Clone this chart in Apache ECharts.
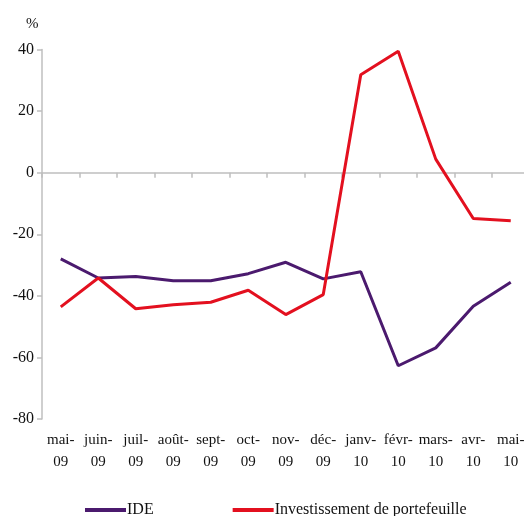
<!DOCTYPE html>
<html>
<head>
<meta charset="utf-8">
<script src="https://cdn.jsdelivr.net/npm/echarts@6/dist/echarts.min.js"></script>
<style>
  html, body { margin: 0; padding: 0; background: #ffffff; }
  #chart { width: 524px; height: 516px; }
</style>
</head>
<body>
<div id="chart"></div>
<script>
// Monthly categories, May 2009 to May 2010
const months = ['mai-\n09', 'juin-\n09', 'juil-\n09', 'août-\n09', 'sept-\n09', 'oct-\n09', 'nov-\n09',
                'déc-\n09', 'janv-\n10', 'févr-\n10', 'mars-\n10', 'avr-\n10', 'mai-\n10'];
// Year-on-year change, %
const ide = [-28.0, -34.2, -33.7, -35.1, -35.1, -32.8, -29.1, -34.5, -32.2, -62.7, -56.9, -43.4, -35.6];
const portefeuille = [-43.6, -34.2, -44.2, -42.9, -42.1, -38.2, -46.1, -39.6, 31.8, 39.4, 4.4, -14.9, -15.6];
const yTicks = { min: -80, max: 40, step: 20 };

const FONT = '"Liberation Serif", "DejaVu Serif", serif';
const AXIS_GREY = '#bfbfbf';
const TEXT = '#111111';

const chart = echarts.init(document.getElementById('chart'), null, { renderer: 'canvas' });

chart.setOption({
  animation: false,
  backgroundColor: '#ffffff',
  textStyle: { fontFamily: FONT, color: TEXT },
  title: {
    text: '%',
    left: 21,
    top: 12,
    textStyle: { fontFamily: FONT, fontSize: 15, fontWeight: 'normal', color: TEXT }
  },
  // the plot runs slightly past the right edge of the canvas
  grid: { left: 42, width: 487.5, top: 49.5, height: 369.5, outerBoundsMode: 'none', containLabel: false },
  legend: {
    top: 497,
    left: 80,
    itemGap: 79,
    itemWidth: 41,
    itemHeight: 4,
    icon: 'rect',
    textStyle: { fontFamily: FONT, fontSize: 16, color: TEXT, padding: [0, 0, 0, -4] },
    data: ['IDE', 'Investissement de portefeuille']
  },
  xAxis: [
    {
      type: 'category',
      data: months,
      boundaryGap: true,
      axisLine: { onZero: true, lineStyle: { color: AXIS_GREY, width: 1.5 } },
      axisTick: { show: true, length: 5, lineStyle: { color: AXIS_GREY, width: 1.5 } },
      axisLabel: { show: false },
      splitLine: { show: false }
    },
    {
      type: 'category',
      data: months,
      position: 'bottom',
      boundaryGap: true,
      axisLine: { show: false, onZero: false },
      axisTick: { show: false },
      axisLabel: {
        show: true,
        interval: 0,
        margin: 10,
        fontFamily: FONT,
        fontSize: 15,
        lineHeight: 22,
        color: TEXT
      },
      splitLine: { show: false }
    }
  ],
  yAxis: {
    type: 'value',
    min: yTicks.min,
    max: yTicks.max,
    interval: yTicks.step,
    axisLine: { show: true, lineStyle: { color: AXIS_GREY, width: 1.5 } },
    axisTick: { show: true, length: 5, lineStyle: { color: AXIS_GREY, width: 1.5 } },
    axisLabel: { fontFamily: FONT, fontSize: 16, color: TEXT, margin: 8 },
    splitLine: { show: false }
  },
  series: [
    {
      name: 'IDE',
      type: 'line',
      xAxisIndex: 0,
      data: ide,
      symbol: 'none',
      color: '#4b1a6e',
      lineStyle: { width: 3, color: '#4b1a6e' }
    },
    {
      name: 'Investissement de portefeuille',
      type: 'line',
      xAxisIndex: 0,
      data: portefeuille,
      symbol: 'none',
      color: '#e3101f',
      lineStyle: { width: 3, color: '#e3101f' }
    }
  ]
});
</script>
</body>
</html>
